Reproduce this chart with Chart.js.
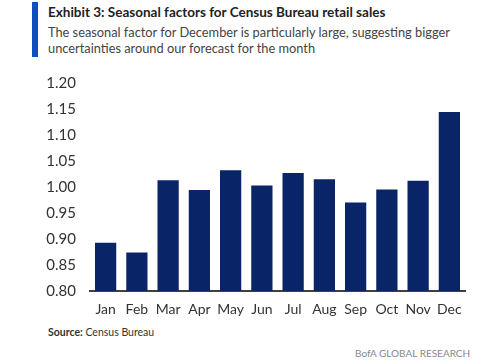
<!DOCTYPE html>
<html>
<head>
<meta charset="utf-8">
<script src="https://cdn.jsdelivr.net/npm/chart.js@4/dist/chart.umd.min.js"></script>
<style>
  body { margin: 0; width: 500px; height: 364px; background: #fff; font-family: Lato, sans-serif; position: relative; overflow: hidden; }
  .bar { position: absolute; left: 32px; top: 2px; width: 6px; height: 55px; background: #0b4fc0; }
  .title { position: absolute; left: 48px; top: 4px; font-size: 13.5px; font-weight: bold; color: #222; white-space: nowrap; }
  .sub { position: absolute; left: 48px; top: 24px; font-size: 12.8px; line-height: 16px; color: #444; white-space: nowrap; }
  .chart { position: absolute; left: 0; top: 60px; width: 500px; height: 260px; }
  .source { position: absolute; left: 48px; top: 326px; font-size: 10.5px; color: #333; }
  .brand { position: absolute; left: 355px; top: 347px; font-size: 10px; color: #888; }
</style>
</head>
<body>
<div class="bar"></div>
<div class="title">Exhibit 3: Seasonal factors for Census Bureau retail sales</div>
<div class="sub">The seasonal factor for December is particularly large, suggesting bigger<br>uncertainties around our forecast for the month</div>
<div class="chart"><canvas id="seasonalChart"></canvas></div>
<div class="source"><b>Source:</b> Census Bureau</div>
<div class="brand">BofA GLOBAL RESEARCH</div>
<script>
const months = ["Jan", "Feb", "Mar", "Apr", "May", "Jun", "Jul", "Aug", "Sep", "Oct", "Nov", "Dec"];
const seasonalFactors = [0.893, 0.874, 1.013, 0.994, 1.032, 1.003, 1.027, 1.015, 0.970, 0.995, 1.012, 1.144];
const yTicks = [0.80, 0.85, 0.90, 0.95, 1.00, 1.05, 1.10, 1.15, 1.20];

document.addEventListener("DOMContentLoaded", function () {
  const chart = new Chart(document.getElementById("seasonalChart"), {
    type: "bar",
    data: {
      labels: months,
      datasets: [
        {
          data: seasonalFactors,
          backgroundColor: "#0a2468",
          barPercentage: 0.68,
          categoryPercentage: 1.0,
        },
      ],
    },
    options: {
      responsive: true,
      maintainAspectRatio: false,
      animation: false,
      layout: { padding: { top: 18, right: 35, bottom: 0, left: 0 } },
      plugins: { legend: { display: false }, tooltip: { enabled: false } },
      scales: {
        x: {
          grid: { display: false, drawTicks: false },
          border: { display: true, color: "#404040", width: 2 },
          ticks: {
            color: "#333",
            font: { family: "Lato", size: 14 },
            padding: 10,
            maxRotation: 0,
            autoSkip: false,
          },
          afterFit: function (scale) { scale.height = 29; },
        },
        y: {
          min: yTicks[0],
          max: yTicks[yTicks.length - 1],
          grid: { display: false, drawTicks: false },
          border: { display: false },
          afterBuildTicks: function (scale) {
            scale.ticks = yTicks.map(function (v) { return { value: v }; });
          },
          ticks: {
            color: "#333",
            font: { family: "Lato", size: 15 },
            padding: 14,
            callback: function (value) { return Number(value).toFixed(2); },
          },
          afterFit: function (scale) { scale.width = 90; },
        },
      },
    },
  });
});
</script>
</body>
</html>
